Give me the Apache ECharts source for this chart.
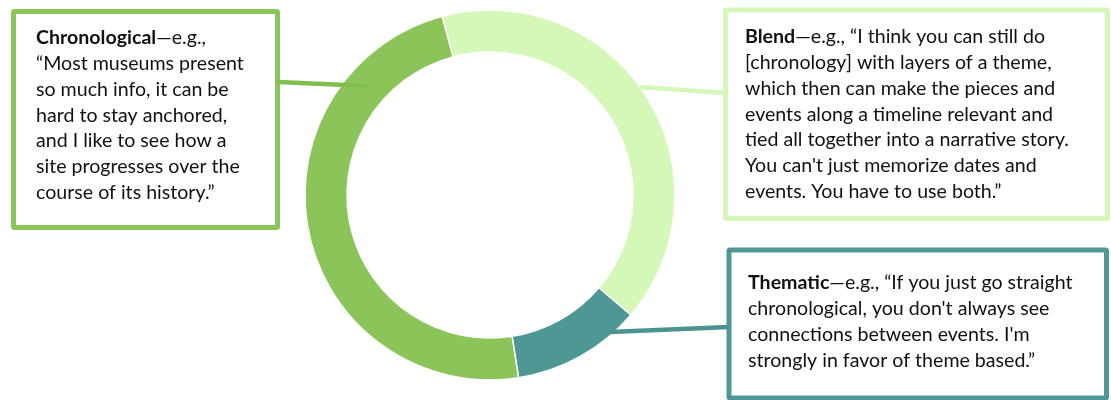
<!DOCTYPE html>
<html>
<head>
<meta charset="utf-8">
<script src="https://cdn.jsdelivr.net/npm/echarts@6/dist/echarts.min.js"></script>
<style>
html,body{margin:0;padding:0;background:#fff;}
#chart{width:1111px;height:400px;}
</style>
</head>
<body>
<div id="chart"></div>
<script>
// Data
const categories = ['Blend', 'Thematic', 'Chronological'];
const shares = [40.4, 11.3, 48.3];
const colors = ['#D5F8B8', '#4F9795', '#8BC55A'];
const quoteChronological = [
  '{b|Chronological}—e.g.,',
  '“Most museums present',
  'so much info, it can be',
  'hard to stay anchored,',
  'and I like to see how a',
  'site progresses over the',
  'course of its history.”'
];
const quoteBlend = [
  '{b|Blend}—e.g., “I think you can still do',
  '[chronology] with layers of a theme,',
  'which then can make the pieces and',
  'events along a timeline relevant and',
  'tied all together into a narrative story.',
  "You can't just memorize dates and",
  'events. You have to use both.”'
];
const quoteThematic = [
  '{b|Thematic}—e.g., “If you just go straight',
  "chronological, you don't always see",
  "connections between events. I'm",
  'strongly in favor of theme based.”'
];

const FONT = 'Lato';
const FS = 19.6;
const LH = 25.8;

function textEl(x, y, lines) {
  return {
    type: 'text', x: x, y: y, z: 120,
    style: {
      text: lines.join('\n'),
      fontFamily: FONT, fontSize: FS, lineHeight: LH, fill: '#111',
      verticalAlign: 'top', align: 'left',
      rich: { b: { fontFamily: FONT, fontSize: FS, lineHeight: LH, fontWeight: 'bold', fill: '#111' } }
    }
  };
}
function boxEl(x, y, w, h, color) {
  return {
    type: 'rect', z: 100,
    shape: { x: x, y: y, width: w, height: h, r: 1 },
    style: { fill: '#fff', stroke: color, lineWidth: 5 }
  };
}
function lineEl(x1, y1, x2, y2, color) {
  return {
    type: 'line', z: 110,
    shape: { x1: x1, y1: y1, x2: x2, y2: y2 },
    style: { stroke: color, lineWidth: 4.5 }
  };
}

const chart = echarts.init(document.getElementById('chart'), null, { renderer: 'canvas' });
chart.setOption({
  animation: false,
  backgroundColor: '#fff',
  series: [{
    type: 'pie',
    center: [490, 195],
    radius: [143, 185],
    startAngle: 105,
    clockwise: true,
    label: { show: false },
    labelLine: { show: false },
    itemStyle: { borderColor: '#fff', borderWidth: 1.5 },
    data: categories.map((c, i) => ({ name: c, value: shares[i], itemStyle: { color: colors[i] } }))
  }],
  graphic: [
    lineEl(278, 82, 368, 86, '#80BF4E'),
    lineEl(640, 87, 725, 93, colors[0]),
    lineEl(610, 332, 729, 327, '#4A9391'),
    boxEl(13.5, 11.5, 264, 216, colors[2]),
    boxEl(725.5, 10, 382, 208.5, colors[0]),
    boxEl(729, 250, 377.5, 148, colors[1]),
    textEl(36, 25, quoteChronological),
    textEl(745, 24, quoteBlend),
    textEl(748, 270, quoteThematic)
  ]
});
</script>
</body>
</html>
